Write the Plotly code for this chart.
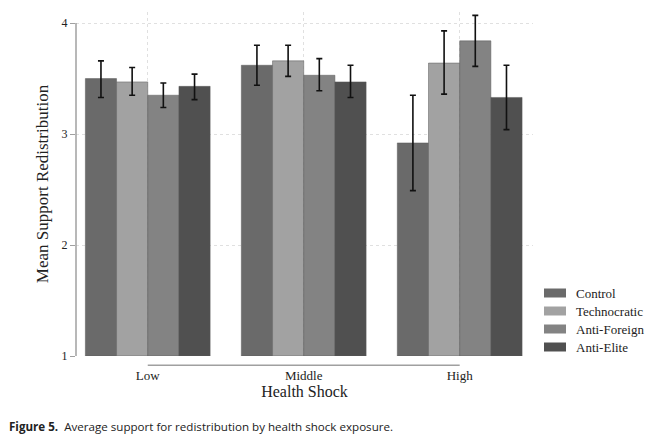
import plotly.graph_objects as go

# data
shock_levels = ["Low", "Middle", "High"]
conditions = ["Control", "Technocratic", "Anti-Foreign", "Anti-Elite"]
bar_colors = ["#6a6a6a", "#a2a2a2", "#838383", "#505050"]

mean_control = [3.50, 3.62, 2.92]
mean_techno = [3.47, 3.66, 3.64]
mean_foreign = [3.35, 3.53, 3.84]
mean_elite = [3.43, 3.47, 3.33]

hi_control = [3.66, 3.80, 3.35]
hi_techno = [3.60, 3.80, 3.93]
hi_foreign = [3.46, 3.68, 4.07]
hi_elite = [3.54, 3.62, 3.62]

lo_control = [3.33, 3.44, 2.49]
lo_techno = [3.35, 3.52, 3.36]
lo_foreign = [3.24, 3.39, 3.61]
lo_elite = [3.31, 3.33, 3.04]

means = [mean_control, mean_techno, mean_foreign, mean_elite]
highs = [hi_control, hi_techno, hi_foreign, hi_elite]
lows = [lo_control, lo_techno, lo_foreign, lo_elite]

serif = "Liberation Serif"
xpos = list(range(len(shock_levels)))

fig = go.Figure()
for name, col, m, hi, lo in zip(conditions, bar_colors, means, highs, lows):
    fig.add_trace(go.Bar(
        x=xpos,
        y=[v - 1 for v in m],
        base=1,
        name=name,
        marker=dict(color=col, line=dict(color="#5a5a5a", width=0.5)),
        error_y=dict(
            type="data",
            symmetric=False,
            array=[h - v for h, v in zip(hi, m)],
            arrayminus=[v - l for v, l in zip(m, lo)],
            color="#111111",
            thickness=1.6,
            width=3,
        ),
        showlegend=False,
    ))

fig.update_layout(
    width=650, height=436,
    margin=dict(l=76, r=117, t=12, b=80),
    paper_bgcolor="white", plot_bgcolor="white",
    barmode="group", bargap=0.2, bargroupgap=0,
    font=dict(family=serif, size=13, color="#222222"),
)

fig.update_xaxes(
    range=[-0.46, 2.47],
    tickvals=xpos, ticktext=shock_levels,
    showline=False, zeroline=False,
    showgrid=True, gridcolor="#e0e0e0", griddash="dot", gridwidth=1,
    ticks="", ticklabelstandoff=10,
    tickfont=dict(family=serif, size=13),
    title=dict(text="Health Shock", font=dict(family=serif, size=16), standoff=2),
)
fig.update_yaxes(
    range=[1, 4.1],
    tickvals=[1, 2, 3, 4],
    showline=False, zeroline=False,
    showgrid=True, gridcolor="#e0e0e0", griddash="dot", gridwidth=1,
    ticks="outside", ticklen=5, tickcolor="#a0a0a0", tickwidth=1,
    tickfont=dict(family=serif, size=12),
    title=dict(text="Mean Support Redistribution", font=dict(family=serif, size=17), standoff=8),
)

# axis lines: y from 1 to 4, x from Low to High just below the plot
fig.add_shape(type="line", xref="paper", yref="y", x0=0, x1=0, y0=1, y1=4,
              line=dict(color="#a0a0a0", width=1.5))
fig.add_shape(type="line", xref="x", yref="paper", x0=xpos[0], x1=xpos[-1], y0=-0.027, y1=-0.027,
              line=dict(color="#a0a0a0", width=1.5))

# legend drawn by hand to get the wide Stata-like keys
for i, (name, col) in enumerate(zip(conditions, bar_colors)):
    yc = 1 - (293 + 18 * i - 12) / 344
    fig.add_shape(type="rect", xref="paper", yref="paper",
                  x0=(544 - 76) / 457, x1=(566 - 76) / 457,
                  y0=yc - 4.5 / 344, y1=yc + 4.5 / 344,
                  fillcolor=col, line=dict(width=0))
    fig.add_annotation(text=name, xref="paper", yref="paper",
                       x=(574 - 76) / 457, y=yc, xanchor="left", yanchor="middle",
                       showarrow=False, font=dict(family=serif, size=13, color="#222222"))

fig.add_annotation(
    text="<b>Figure 5.</b>  Average support for redistribution by health shock exposure.",
    xref="paper", yref="paper", x=(7 - 76) / 457, y=1 - (426 - 12) / 344,
    xanchor="left", yanchor="middle", showarrow=False,
    font=dict(family="Open Sans", size=11.6, color="#222222"),
)

# remove the default page margin so the figure fills the window
fig.write_html("out.html", config={"displayModeBar": False},
               post_script="document.body.style.margin='0px';")
